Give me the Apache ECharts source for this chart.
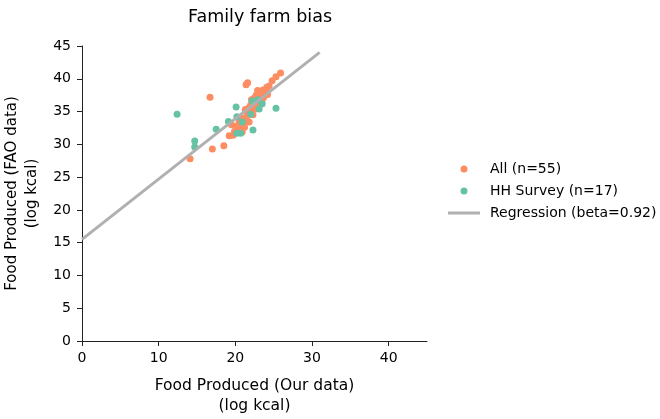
<!DOCTYPE html>
<html>
<head>
<meta charset="utf-8">
<script src="https://cdn.jsdelivr.net/npm/echarts@6/dist/echarts.min.js"></script>
<style>html,body{margin:0;padding:0;background:#fff}#c{width:660px;height:419px}</style>
</head>
<body>
<div id="c"></div>
<script>
var allPoints = [
  [16.7,37.2],[21.4,39.1],[21.6,39.4],[25.9,40.9],[25.3,40.3],[24.8,39.7],[24.1,38.7],[23.6,38.3],
  [23.1,38.0],[23.4,37.6],[23.0,37.3],[23.8,37.8],[14.1,27.8],[17.0,29.3],[18.5,29.8],[19.2,31.3],
  [19.7,31.4],[21.8,33.4],[20.3,32.4],[20.8,32.2],[20.6,33.0],[21.2,33.6],[20.0,31.8],[22.0,35.2],
  [22.5,36.0],[22.8,36.5],[21.5,35.0],[22.3,34.5],[23.2,37.0],[22.7,37.5],[24.0,38.3],[23.5,36.8],
  [21.0,34.0],[20.5,33.5],[22.0,36.0],[24.4,38.9],[23.0,36.2],[21.8,35.6],[20.2,32.8],[19.5,33.0],
  [22.6,35.4],[23.3,37.9],[21.2,32.6],[22.1,36.8],[23.7,37.2],[20.9,31.9],[21.6,34.4],[22.9,38.2],
  [23.9,38.0],[19.9,32.0],[21.3,35.3],[22.4,37.0],[20.7,33.9],[23.1,35.9],[24.2,37.6]
];
var hhPoints = [
  [12.4,34.6],[14.7,30.5],[14.7,29.6],[17.5,32.3],[19.1,33.5],[20.1,35.7],[20.9,33.4],[20.2,34.2],
  [20.2,31.7],[20.7,31.7],[22.3,32.2],[22.2,36.6],[22.0,34.6],[23.1,35.4],[23.5,36.2],[25.3,35.5],[22.9,36.8]
];
var beta = 0.92;
var intercept = 15.5;
var regX = [0, 31];
var regression = regX.map(function(x){ return [x, intercept + beta * x]; });
var xTicks = [0,10,20,30,40];

var font = 'DejaVu Sans';
var chart = echarts.init(document.getElementById('c'), null, {renderer:'canvas'});
chart.setOption({
  animation: false,
  backgroundColor: '#fff',
  textStyle: {fontFamily: font},
  title: {
    text: 'Family farm bias', left: 255, top: 3, textAlign: 'center',
    textStyle: {fontFamily: font, fontSize: 17.5, fontWeight: 'normal', color: '#000'}
  },
  grid: {left: 82, top: 46, width: 345, height: 295, containLabel: false, outerBoundsMode: 'none'},
  xAxis: {
    type: 'value', min: 0, max: 45, interval: 10,
    name: 'Food Produced (Our data)\n(log kcal)', nameLocation: 'middle', nameGap: 35,
    nameTextStyle: {fontFamily: font, fontSize: 15.5, color: '#000', lineHeight: 20},
    splitLine: {show: false},
    axisLine: {lineStyle: {color: '#222', width: 1}},
    axisTick: {show: true, length: 5, inside: false, customValues: xTicks, lineStyle: {color: '#222'}},
    axisLabel: {customValues: xTicks, fontFamily: font, fontSize: 14, color: '#000', margin: 10}
  },
  yAxis: {
    type: 'value', min: 0, max: 45, interval: 5,
    name: 'Food Produced (FAO data)\n(log kcal)', nameLocation: 'middle', nameGap: 33, nameRotate: 90,
    nameTextStyle: {fontFamily: font, fontSize: 15, color: '#000', lineHeight: 20},
    splitLine: {show: false},
    axisLine: {show: true, lineStyle: {color: '#222', width: 1}},
    axisTick: {show: true, length: 5, lineStyle: {color: '#222'}},
    axisLabel: {fontFamily: font, fontSize: 14, color: '#000', margin: 11}
  },
  legend: {
    orient: 'vertical', left: 443, top: 157, itemWidth: 32, itemHeight: 7, itemGap: 8,
    textStyle: {fontFamily: font, fontSize: 14, color: '#000', padding: [0, 0, 0, 5]},
    data: [
      {name: 'All (n=55)', icon: 'circle'},
      {name: 'HH Survey (n=17)', icon: 'circle'},
      {name: 'Regression (beta=0.92)', icon: 'path://M0,0 L32,0 L32,3 L0,3 Z'}
    ]
  },
  series: [
    {name: 'All (n=55)', type: 'scatter', data: allPoints, symbolSize: 7,
     itemStyle: {color: '#fc8d62', opacity: 1}, z: 3},
    {name: 'HH Survey (n=17)', type: 'scatter', data: hhPoints, symbolSize: 7,
     itemStyle: {color: '#66c2a5', opacity: 1}, z: 4},
    {name: 'Regression (beta=0.92)', type: 'line', data: regression, showSymbol: false, symbol: 'none',
     lineStyle: {color: '#b0b0b0', width: 3}, itemStyle: {color: '#b0b0b0'}, z: 5}
  ]
});
</script>
</body>
</html>
